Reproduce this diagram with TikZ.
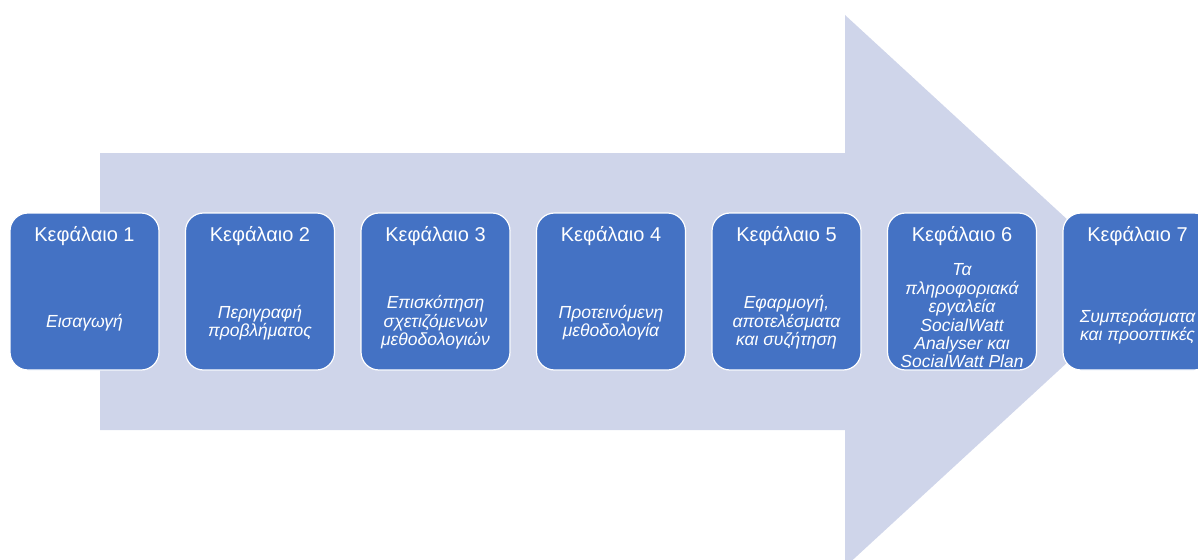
\documentclass[tikz,border=0pt]{standalone}
\usepackage{fontspec}
\setmainfont{Liberation Sans}
\usetikzlibrary{positioning}
\definecolor{arrowfill}{HTML}{CFD5EA}
\definecolor{chapblue}{HTML}{4472C4}

\begin{document}
\begin{tikzpicture}[x=1pt,y=-1pt,
  chap/.style={draw=white, line width=1.2pt, fill=chapblue, rounded corners=18pt,
    minimum width=149pt, minimum height=157pt, inner sep=0pt},
  chaptitle/.style={text=white, font=\fontsize{20}{23}\selectfont},
  chapsub/.style={text=white, align=center, inner sep=0pt,
    font=\fontsize{17.5}{18.4}\selectfont\itshape}]
\clip (0,0) rectangle (1198,559);
% background arrow
\fill[arrowfill] (100,153) -- (845,153) -- (845,15) -- (1145,291)
  -- (845,567) -- (845,430) -- (100,430) -- cycle;
% chapter boxes
\node[chap] (c1) at (84.5,291.5) {};
\node[chap, right=25.3pt of c1] (c2) {};
\node[chap, right=25.3pt of c2] (c3) {};
\node[chap, right=25.3pt of c3] (c4) {};
\node[chap, right=25.3pt of c4] (c5) {};
\node[chap, right=25.3pt of c5] (c6) {};
\node[chap, right=25.3pt of c6] (c7) {};
% titles
\node[chaptitle] (t1) at ([yshift=-24pt]c1.north) {Κεφάλαιο 1};
\node[chaptitle] (t2) at ([yshift=-24pt]c2.north) {Κεφάλαιο 2};
\node[chaptitle] (t3) at ([yshift=-24pt]c3.north) {Κεφάλαιο 3};
\node[chaptitle] (t4) at ([yshift=-24pt]c4.north) {Κεφάλαιο 4};
\node[chaptitle] (t5) at ([yshift=-24pt]c5.north) {Κεφάλαιο 5};
\node[chaptitle] (t6) at ([yshift=-24pt]c6.north) {Κεφάλαιο 6};
\node[chaptitle] (t7) at ([yshift=-24pt]c7.north) {Κεφάλαιο 7};
% subtitles
\node[chapsub] (s1) at ([yshift=-31pt]c1.center) {Εισαγωγή};
\node[chapsub] (s2) at ([yshift=-31pt]c2.center) {Περιγραφή\\προβλήματος};
\node[chapsub] (s3) at ([yshift=-31pt]c3.center) {Επισκόπηση\\σχετιζόμενων\\μεθοδολογιών};
\node[chapsub] (s4) at ([yshift=-31pt]c4.center) {Προτεινόμενη\\μεθοδολογία};
\node[chapsub] (s5) at ([yshift=-31pt]c5.center) {Εφαρμογή,\\αποτελέσματα\\και συζήτηση};
\node[chapsub] (s6) at ([yshift=-24.5pt]c6.center) {Τα\\πληροφοριακά\\εργαλεία\\SocialWatt\\Analyser και\\SocialWatt Plan};
\node[chapsub] (s7) at ([yshift=-35pt]c7.center) {Συμπεράσματα\\και προοπτικές};
\end{tikzpicture}
\end{document}
